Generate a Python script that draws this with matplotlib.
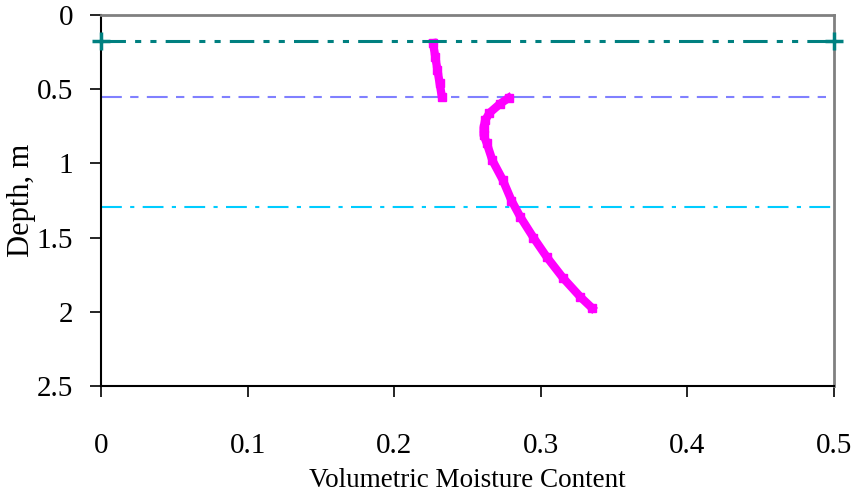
import matplotlib.pyplot as plt

# depth (m) vs volumetric moisture content
theta_top = [0.2265, 0.2280, 0.2295, 0.2310, 0.2325]
depth_top = [0.19, 0.28, 0.37, 0.46, 0.55]

theta_low = [0.278, 0.272, 0.265, 0.262, 0.261, 0.261, 0.263, 0.267, 0.274,
             0.280, 0.286, 0.295, 0.304, 0.315, 0.327, 0.335]
depth_low = [0.559, 0.60, 0.66, 0.71, 0.76, 0.81, 0.86, 0.98, 1.11,
             1.25, 1.36, 1.50, 1.63, 1.77, 1.90, 1.975]

# layer boundaries
bound_1 = 0.175
bound_2 = 0.553
bound_3 = 1.294

plt.rcParams['font.family'] = 'Liberation Serif'
fig = plt.figure(figsize=(8.54, 4.97), dpi=100)
ax = fig.add_axes([101/854, 1-386/497, (834-101)/854, (386-15)/497])

ax.plot([0, 0.5], [bound_1, bound_1], color='#008080', lw=2.2,
        dashes=[8, 3, 2, 3, 2, 3], marker='+', ms=13, mew=2.5,
        clip_on=False, zorder=4)
ax.plot([0, 0.5], [bound_2, bound_2], color='#8080FF', lw=1.5, dashes=[10, 4, 4, 4])
ax.plot([0, 0.5], [bound_3, bound_3], color='#00CCFF', lw=1.5, dashes=[10, 4, 2, 4])

ax.plot(theta_top, depth_top, color='#FF00FF', lw=6, marker='s', ms=5.5)
ax.plot(theta_low, depth_low, color='#FF00FF', lw=6, marker='s', ms=5.5)

ax.set_xlim(0, 0.5)
ax.set_ylim(2.5, 0)
ax.set_xticks([0, 0.1, 0.2, 0.3, 0.4, 0.5])
ax.set_xticklabels(['0', '0.1', '0.2', '0.3', '0.4', '0.5'])
ax.set_yticks([0, 0.5, 1, 1.5, 2, 2.5])
ax.set_yticklabels(['0', '0.5', '1', '1.5', '2', '2.5'])
ax.tick_params(axis='both', labelsize=21, direction='out', length=8, width=1.2)
ax.tick_params(axis='x', pad=26)
ax.tick_params(axis='y', pad=12)

for s in ['top', 'right']:
    ax.spines[s].set_color('#808080')
    ax.spines[s].set_linewidth(2)
for s in ['left', 'bottom']:
    ax.spines[s].set_color('black')
    ax.spines[s].set_linewidth(1.5)

ax.set_xlabel('Volumetric Moisture Content', fontsize=19.5)
ax.set_ylabel('Depth, m', fontsize=22)
ax.xaxis.set_label_coords(0.5, -0.22)
ax.yaxis.set_label_coords(-0.088, 0.5)

fig.savefig('out.png', dpi=100)
